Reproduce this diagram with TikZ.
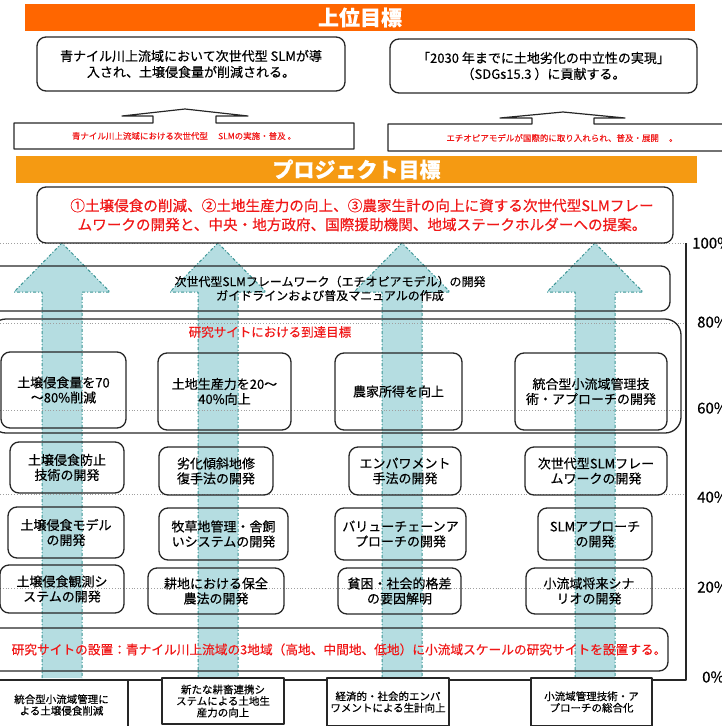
\documentclass[tikz,border=0pt]{standalone}
\usepackage{fontspec}
\setmainfont{Noto Sans CJK JP}[FakeBold=0.4]
\definecolor{bannerA}{HTML}{FF6600}
\definecolor{bannerB}{HTML}{F59A12}
\definecolor{arrowfill}{HTML}{B5DDE1}
\definecolor{arrowline}{HTML}{3A9494}
\definecolor{jred}{HTML}{F01818}
\tikzset{
  rbox/.style={draw=black!85, line width=1.3pt, rounded corners=9pt, inner sep=0pt, align=center},
  sbox/.style={draw=black!85, line width=1.1pt, fill=white, inner sep=0pt, align=center},
  thinbox/.style={draw=black!85, line width=1.2pt},
  banner/.style={inner sep=0pt, text=white, font=\fontsize{21}{24}\selectfont\bfseries},
  tbig/.style={font=\fontsize{14.6}{19}\selectfont},
  tmid/.style={font=\fontsize{13}{16}\selectfont},
  tbox/.style={font=\fontsize{13}{15}\selectfont},
  tfw/.style={font=\fontsize{12}{14}\selectfont},
  tsmall/.style={font=\fontsize{10.5}{11.5}\selectfont},
  ttiny/.style={font=\fontsize{8.5}{10}\selectfont},
  tpct/.style={font=\fontsize{15}{17}\selectfont, anchor=west, inner sep=0pt},
  gridline/.style={draw=gray!75, line width=0.8pt, dotted},
  arrowborder/.style={draw=arrowline, line width=1pt, dash dot},
}
\begin{document}
\begin{tikzpicture}[x=1pt,y=-1pt,line join=round]
\useasboundingbox (0,0) rectangle (722,726);

% big blue arrows
\foreach \cx in {62,218,402,595} {
  \fill[arrowfill] (\cx-20,678) -- (\cx-20,292) -- (\cx-48,292) -- (\cx,243) -- (\cx+48,292) -- (\cx+20,292) -- (\cx+20,678) -- cycle;
  \draw[arrowborder] (\cx-20,678) -- (\cx-20,292) -- (\cx-48,292) -- (\cx,243) -- (\cx+48,292) -- (\cx+20,292) -- (\cx+20,678);
}

% dotted percentage grid
\draw[gridline] (0,243) -- (686,243);
\draw[gridline] (0,323) -- (686,323);
\draw[gridline] (0,410) -- (686,410);
\draw[gridline] (0,494) -- (686,494);
\draw[gridline] (0,588) -- (686,588);

% axis frame
\draw[line width=1.3pt, draw=black!85] (686,243) -- (686,680) -- (-5,680);
\node[tpct] (p100) at (692,243) {100\%};
\node[tpct] (p80) at (697,322) {80\%};
\node[tpct] (p60) at (697,408) {60\%};
\node[tpct] (p40) at (697,497) {40\%};
\node[tpct] (p20) at (697,587) {20\%};
\node[tpct] (p0) at (702,677) {0\%};

% banners
\node[banner, fill=bannerA, minimum width=670pt, minimum height=27pt] (b1) at (360,17.5) {上位目標};
\node[banner, fill=bannerB, minimum width=681pt, minimum height=27pt] (b2) at (356.5,169.5) {プロジェクト目標};

% top goals
\node[rbox, tmid, minimum width=308pt, minimum height=54pt] (top1) at (191,64) {青ナイル川上流域において次世代型 SLMが導\\入され、土壌侵食量が削減される。};
\node[rbox, tmid, minimum width=307pt, minimum height=54pt] (top2) at (543.5,66) {「2030 年までに土地劣化の中立性の実現」\\（SDGs15.3 ）に貢献する。};

% small up-arrow boxes
\draw[thinbox] (14,123) -- (153,123) -- (153,116) -- (122,116) -- (185,109) -- (248,116) -- (216,116) -- (216,123) -- (354,123) -- (354,149) -- (14,149) -- cycle;
\node[ttiny, text=jred] (ua1) at (184,136) {青ナイル川上流域における次世代型\hspace{1.2em}SLMの実施・普及 。};
\draw[thinbox] (388,124) -- (532,124) -- (532,118) -- (500,118) -- (563,112) -- (625,118) -- (594,118) -- (594,124) -- (730,124) -- (730,151) -- (388,151) -- cycle;
\node[ttiny, text=jred] (ua2) at (562,138) {エチオピアモデルが国際的に取り入れられ、普及・展開\hspace{1.2em}。};

% project goal
\node[rbox, minimum width=636pt, minimum height=56pt] (proj) at (355,215) {};
\node[tbig, text=jred, align=center] (projtxt) at (362,215) {①土壌侵食の削減、②土地生産力の向上、③農家生計の向上に資する次世代型SLMフレー\\ムワークの開発と、中央・地方政府、国際援助機関、地域ステークホルダーへの提案。};

% framework
\node[rbox, tfw, minimum width=680pt, minimum height=45pt] (fw) at (330,288.5) {次世代型SLMフレームワーク（エチオピアモデル）の開発\\ガイドラインおよび普及マニュアルの作成};

% research site targets
\node[rbox, rounded corners=16pt, minimum width=691pt, minimum height=114pt] (site) at (335.5,376) {};
\node[tfw, font=\fontsize{12.5}{14}\selectfont, text=jred] (sitelbl) at (270,332) {研究サイトにおける到達目標};

\node[rbox, tbox, minimum width=125pt, minimum height=76pt] (a1) at (63.5,390) {土壌侵食量を70\\～80\%削減};
\node[rbox, tbox, minimum width=133pt, minimum height=77pt] (a2) at (224.5,391.5) {土地生産力を20～\\40\%向上};
\node[rbox, tbox, minimum width=127pt, minimum height=77pt] (a3) at (398.5,391.5) {農家所得を向上};
\node[rbox, tbox, minimum width=152pt, minimum height=77pt] (a4) at (591,391.5) {統合型小流域管理技\\術・アプローチの開発};

\node[rbox, tbox, minimum width=114pt, minimum height=51pt] (b1x) at (67,467.5) {土壌侵食防止\\技術の開発};
\node[rbox, tbox, minimum width=114pt, minimum height=48pt] (b2x) at (216,471) {劣化傾斜地修\\復手法の開発};
\node[rbox, tbox, minimum width=112pt, minimum height=48pt] (b3x) at (405,471) {エンパワメント\\手法の開発};
\node[rbox, tbox, minimum width=142pt, minimum height=48pt] (b4x) at (596,471) {次世代型SLMフレー\\ムワークの開発};

\node[rbox, tbox, minimum width=116pt, minimum height=51pt] (c1) at (66,532.5) {土壌侵食モデル\\の開発};
\node[rbox, tbox, minimum width=129pt, minimum height=52pt] (c2) at (223.5,534) {牧草地管理・舎飼\\いシステムの開発};
\node[rbox, tbox, minimum width=131pt, minimum height=52pt] (c3) at (400.5,534) {バリューチェーンア\\プローチの開発};
\node[rbox, tbox, minimum width=114pt, minimum height=52pt] (c4) at (595,534) {SLMアプローチ\\の開発};

\node[rbox, tbox, minimum width=124pt, minimum height=48pt] (d1) at (62,589) {土壌侵食観測シ\\ステムの開発};
\node[rbox, tbox, minimum width=136pt, minimum height=46pt] (d2) at (216,591) {耕地における保全\\農法の開発};
\node[rbox, tbox, minimum width=123pt, minimum height=46pt] (d3) at (399.5,591) {貧困・社会的格差\\の要因解明};
\node[rbox, tbox, minimum width=126pt, minimum height=46pt] (d4) at (589,591) {小流域将来シナ\\リオの開発};

% research site establishment
\node[rbox, minimum width=678pt, minimum height=43pt] (est) at (329,649.5) {};
\node[text=jred, font=\fontsize{12.7}{14}\selectfont] (esttxt) at (339,649.5) {研究サイトの設置：青ナイル川上流域の3地域（高地、中間地、低地）に小流域スケールの研究サイトを設置する。};

% bottom outputs
\node[sbox, tsmall, minimum width=133pt, minimum height=50pt] (e1) at (61.5,705) {統合型小流域管理に\\よる土壌侵食削減};
\node[sbox, tsmall, minimum width=122pt, minimum height=46pt] (e2) at (223,701) {新たな耕畜連携シ\\ステムによる土地生\\産力の向上};
\node[sbox, tsmall, minimum width=122pt, minimum height=48pt] (e3) at (388,702) {経済的・社会的エンパ\\ワメントによる生計向上};
\node[sbox, tsmall, minimum width=121pt, minimum height=48pt] (e4) at (591.5,702) {小流域管理技術・ア\\プローチの総合化};
\end{tikzpicture}
\end{document}
